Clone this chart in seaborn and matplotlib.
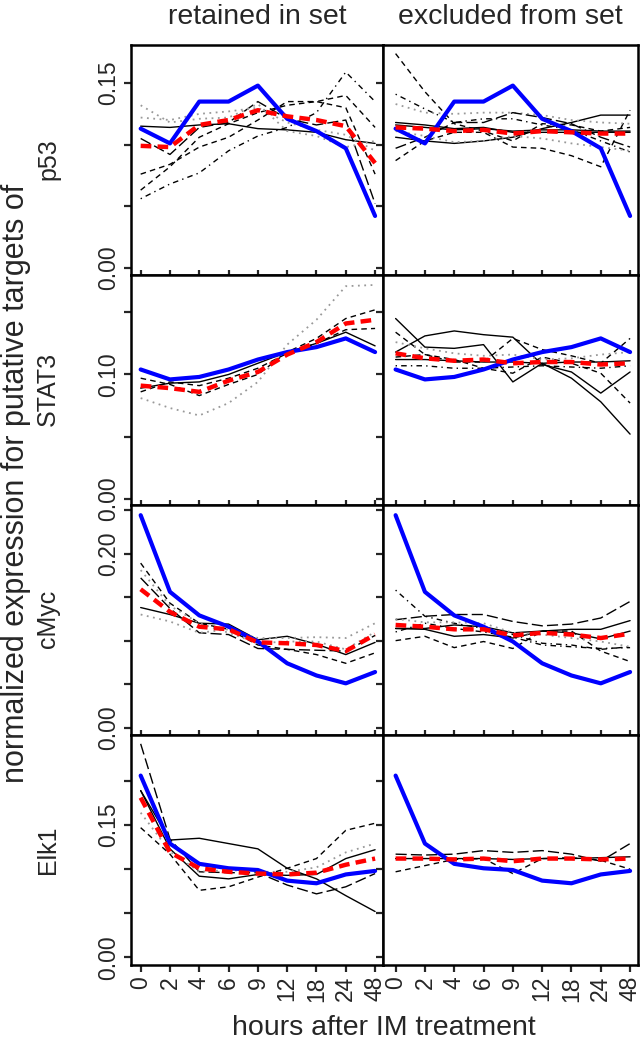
import seaborn as sns
import matplotlib.pyplot as plt

hours = ["0", "2", "4", "6", "9", "12", "18", "24", "48"]
factors = ["p53", "STAT3", "cMyc", "Elk1"]
col_titles = ["retained in set", "excluded from set"]

# blue: profile of the factor itself (same in both columns)
p53_factor = [0.113, 0.101, 0.135, 0.135, 0.148, 0.121, 0.111, 0.097, 0.042]
stat3_factor = [0.104, 0.096, 0.098, 0.104, 0.112, 0.118, 0.122, 0.129, 0.118]
cmyc_factor = [0.244, 0.156, 0.129, 0.116, 0.099, 0.074, 0.060, 0.051, 0.064]
elk1_factor = [0.206, 0.129, 0.106, 0.101, 0.099, 0.087, 0.084, 0.094, 0.098]

# red: mean of the targets in each group
p53_in_mean = [0.099, 0.098, 0.116, 0.120, 0.128, 0.123, 0.120, 0.115, 0.085]
p53_out_mean = [0.114, 0.113, 0.111, 0.112, 0.109, 0.111, 0.110, 0.109, 0.109]
stat3_in_mean = [0.091, 0.089, 0.086, 0.095, 0.102, 0.116, 0.126, 0.141, 0.144]
stat3_out_mean = [0.117, 0.113, 0.111, 0.112, 0.109, 0.110, 0.110, 0.108, 0.109]
cmyc_in_mean = [0.159, 0.133, 0.116, 0.113, 0.098, 0.097, 0.095, 0.088, 0.107]
cmyc_out_mean = [0.118, 0.116, 0.113, 0.113, 0.106, 0.109, 0.107, 0.103, 0.108]
elk1_in_mean = [0.181, 0.119, 0.101, 0.097, 0.095, 0.094, 0.096, 0.105, 0.112]
elk1_out_mean = [0.112, 0.112, 0.111, 0.112, 0.109, 0.112, 0.112, 0.111, 0.112]

# individual target genes
p53_in_genes = [
    [0.115, 0.114, 0.116, 0.117, 0.113, 0.112, 0.110, 0.104, 0.101],
    [0.056, 0.068, 0.077, 0.095, 0.107, 0.114, 0.126, 0.159, 0.135],
    [0.063, 0.082, 0.106, 0.117, 0.126, 0.132, 0.135, 0.140, 0.114],
    [0.076, 0.084, 0.098, 0.106, 0.120, 0.135, 0.135, 0.130, 0.076],
    [0.105, 0.092, 0.114, 0.118, 0.135, 0.121, 0.116, 0.120, 0.052],
    [0.132, 0.118, 0.121, 0.122, 0.133, 0.111, 0.107, 0.098, 0.103],
    [0.122, 0.120, 0.125, 0.127, 0.130, 0.118, 0.112, 0.108, 0.095],
]
p53_out_genes = [
    [0.174, 0.143, 0.117, 0.111, 0.103, 0.117, 0.116, 0.111, 0.114],
    [0.141, 0.129, 0.118, 0.121, 0.121, 0.116, 0.112, 0.103, 0.094],
    [0.087, 0.103, 0.110, 0.110, 0.098, 0.097, 0.091, 0.082, 0.128],
    [0.106, 0.103, 0.101, 0.103, 0.106, 0.113, 0.118, 0.124, 0.124],
    [0.118, 0.116, 0.113, 0.114, 0.110, 0.110, 0.110, 0.110, 0.110],
    [0.133, 0.126, 0.125, 0.126, 0.126, 0.124, 0.120, 0.118, 0.117],
    [0.097, 0.106, 0.118, 0.118, 0.126, 0.122, 0.117, 0.106, 0.098],
    [0.111, 0.107, 0.102, 0.103, 0.107, 0.105, 0.101, 0.098, 0.095],
    [0.116, 0.114, 0.112, 0.113, 0.111, 0.112, 0.112, 0.111, 0.111],
]
stat3_in_genes = [
    [0.089, 0.093, 0.094, 0.100, 0.109, 0.118, 0.125, 0.134, 0.123],
    [0.097, 0.092, 0.083, 0.092, 0.100, 0.118, 0.129, 0.145, 0.152],
    [0.086, 0.094, 0.091, 0.097, 0.105, 0.117, 0.125, 0.136, 0.137],
    [0.081, 0.073, 0.067, 0.077, 0.094, 0.124, 0.144, 0.171, 0.172],
]
stat3_out_genes = [
    [0.145, 0.122, 0.121, 0.124, 0.094, 0.109, 0.097, 0.078, 0.052],
    [0.118, 0.131, 0.135, 0.132, 0.130, 0.108, 0.102, 0.085, 0.102],
    [0.134, 0.116, 0.110, 0.110, 0.129, 0.120, 0.115, 0.109, 0.129],
    [0.112, 0.112, 0.111, 0.110, 0.110, 0.109, 0.110, 0.110, 0.111],
    [0.114, 0.116, 0.112, 0.105, 0.101, 0.114, 0.109, 0.101, 0.077],
    [0.126, 0.121, 0.117, 0.115, 0.116, 0.112, 0.113, 0.116, 0.118],
    [0.107, 0.107, 0.105, 0.105, 0.106, 0.107, 0.106, 0.105, 0.107],
]
cmyc_in_genes = [
    [0.138, 0.130, 0.120, 0.119, 0.101, 0.105, 0.096, 0.084, 0.098],
    [0.189, 0.143, 0.120, 0.113, 0.095, 0.090, 0.084, 0.074, 0.086],
    [0.172, 0.137, 0.109, 0.107, 0.091, 0.090, 0.089, 0.088, 0.106],
    [0.130, 0.122, 0.109, 0.113, 0.103, 0.103, 0.104, 0.103, 0.120],
    [0.181, 0.140, 0.120, 0.109, 0.097, 0.099, 0.099, 0.090, 0.110],
]
cmyc_out_genes = [
    [0.158, 0.128, 0.120, 0.114, 0.107, 0.097, 0.095, 0.090, 0.093],
    [0.124, 0.128, 0.130, 0.130, 0.122, 0.117, 0.119, 0.126, 0.145],
    [0.114, 0.114, 0.118, 0.116, 0.109, 0.111, 0.113, 0.113, 0.123],
    [0.114, 0.113, 0.105, 0.107, 0.103, 0.111, 0.109, 0.102, 0.111],
    [0.100, 0.105, 0.092, 0.099, 0.091, 0.111, 0.111, 0.088, 0.076],
    [0.125, 0.121, 0.121, 0.120, 0.109, 0.107, 0.103, 0.099, 0.093],
    [0.110, 0.120, 0.114, 0.110, 0.104, 0.095, 0.093, 0.091, 0.092],
]
elk1_in_genes = [
    [0.189, 0.133, 0.135, 0.129, 0.123, 0.101, 0.089, 0.070, 0.052],
    [0.189, 0.123, 0.092, 0.089, 0.094, 0.093, 0.094, 0.112, 0.122],
    [0.242, 0.134, 0.097, 0.096, 0.096, 0.082, 0.072, 0.080, 0.095],
    [0.147, 0.117, 0.076, 0.080, 0.091, 0.101, 0.112, 0.144, 0.152],
    [0.164, 0.120, 0.097, 0.099, 0.097, 0.097, 0.102, 0.119, 0.129],
]
elk1_out_genes = [
    [0.112, 0.112, 0.112, 0.112, 0.111, 0.112, 0.112, 0.113, 0.114],
    [0.117, 0.116, 0.117, 0.121, 0.119, 0.121, 0.117, 0.109, 0.129],
    [0.097, 0.104, 0.111, 0.112, 0.095, 0.112, 0.113, 0.110, 0.100],
]

# R-like line types for the thin gene lines
LTY = {
    "solid": ("black", "-", 1.0),
    "dash": ("black", (0, (4, 3)), 1.0),
    "longdash": ("black", (0, (8, 3)), 1.0),
    "dotdash": ("black", (0, (1, 3, 4, 3)), 1.0),
    "dot": ("#999999", (0, (1, 2.5)), 1.3),
}
panel_lty = {
    ("p53", 0): ["solid", "dotdash", "dash", "dash", "longdash", "dot", "dot"],
    ("p53", 1): ["dash", "dotdash", "dash", "solid", "solid", "dot", "longdash", "dot", "solid"],
    ("STAT3", 0): ["solid", "dash", "dash", "dot"],
    ("STAT3", 1): ["solid", "solid", "dash", "solid", "dash", "dot", "dotdash"],
    ("cMyc", 0): ["solid", "dash", "longdash", "dot", "dot"],
    ("cMyc", 1): ["dotdash", "longdash", "solid", "solid", "dash", "dot", "dotdash"],
    ("Elk1", 0): ["solid", "solid", "longdash", "dash", "dot"],
    ("Elk1", 1): ["solid", "longdash", "dash"],
}

data = {
    "p53": (p53_factor, [p53_in_mean, p53_out_mean], [p53_in_genes, p53_out_genes]),
    "STAT3": (stat3_factor, [stat3_in_mean, stat3_out_mean], [stat3_in_genes, stat3_out_genes]),
    "cMyc": (cmyc_factor, [cmyc_in_mean, cmyc_out_mean], [cmyc_in_genes, cmyc_out_genes]),
    "Elk1": (elk1_factor, [elk1_in_mean, elk1_out_mean], [elk1_in_genes, elk1_out_genes]),
}
ylims = {"p53": (-0.006, 0.181), "STAT3": (-0.005, 0.180),
         "cMyc": (-0.0083, 0.2557), "Elk1": (-0.0086, 0.252)}
yticks = {"p53": [0, 0.05, 0.10, 0.15], "STAT3": [0, 0.05, 0.10, 0.15],
          "cMyc": [0, 0.05, 0.10, 0.15, 0.20, 0.25], "Elk1": [0, 0.05, 0.10, 0.15, 0.20]}
yshown = {"p53": [0, 0.15], "STAT3": [0, 0.10], "cMyc": [0, 0.20], "Elk1": [0, 0.15]}
xlims = [(-0.33, 8.27), (-0.43, 8.27)]

sns.set_style("ticks")
plt.rcParams["font.family"] = ["Liberation Sans", "DejaVu Sans"]

fig, axes = plt.subplots(4, 2, figsize=(6.42, 10.5), dpi=100,
                         gridspec_kw={"width_ratios": [252, 255]})
fig.subplots_adjust(left=131/642, right=638/642, top=1-45/1050, bottom=1-965/1050,
                    wspace=0, hspace=0)
xpos = list(range(len(hours)))

for r, name in enumerate(factors):
    factor, means, genes = data[name]
    for c in range(2):
        ax = axes[r, c]
        for g, lty in zip(genes[c], panel_lty[(name, c)]):
            col, ls, lw = LTY[lty]
            sns.lineplot(x=xpos, y=g, ax=ax, color=col, linestyle=ls, linewidth=lw)
        sns.lineplot(x=xpos, y=factor, ax=ax, color="#0000ff", linewidth=3.0)
        sns.lineplot(x=xpos, y=means[c], ax=ax, color="#ff0000",
                     linestyle=(0, (2.4, 1.4)), linewidth=3.2)
        ax.set_xlim(*xlims[c])
        ax.set_ylim(*ylims[name])
        ax.set_yticks(yticks[name])
        if c == 0:
            ax.set_yticklabels([f"{t:.2f}" if t in yshown[name] else "" for t in yticks[name]],
                               rotation=90, va="center", fontsize=16.5)
        else:
            ax.set_yticklabels([])
        ax.set_xticks(xpos)
        if r == 3:
            ax.set_xticklabels(hours, rotation=90, fontsize=16.5)
        else:
            ax.set_xticklabels([])
        ax.tick_params(axis="y", direction="out", length=5, width=1.6, pad=3)
        ax.tick_params(axis="x", direction="inout" if r < 3 else "out",
                       length=7 if r < 3 else 5, width=1.6, pad=3)
        for s in ax.spines.values():
            s.set_linewidth(1.8)
            s.set_color("black")
        ax.set_xlabel("")
        ax.set_ylabel("")

for c, t in enumerate(col_titles):
    fig.text(((131 + 383) / 2 if c == 0 else (383 + 638) / 2) / 642, 1 - 17/1050, t,
             ha="center", va="center", fontsize=20.5)
row_centers = [159.5, 388.5, 618.5, 849.5]
for name, yc in zip(factors, row_centers):
    fig.text(48/642, 1 - yc/1050, name, rotation=90, ha="center", va="center", fontsize=18)
fig.text(16/642, 1 - 483/1050, "normalized expression for putative targets of",
         rotation=90, ha="center", va="center", fontsize=22)
fig.text(384/642, 1 - 1028/1050, "hours after IM treatment",
         ha="center", va="center", fontsize=20.5)

fig.savefig("out.png", dpi=100)
